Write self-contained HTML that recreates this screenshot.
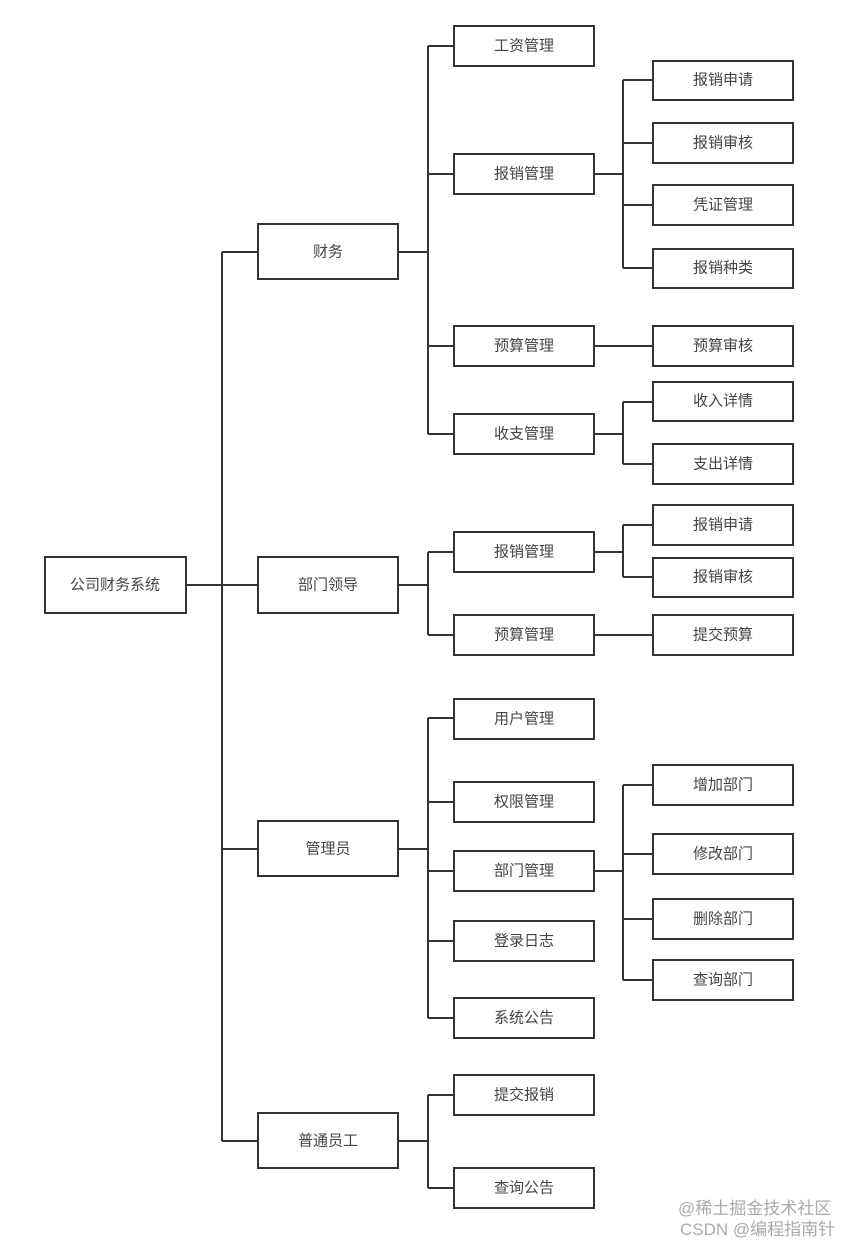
<!DOCTYPE html>
<html><head><meta charset="utf-8"><style>
html,body{margin:0;padding:0;background:#fff;}
svg text{font-family:"Liberation Sans","Noto Sans CJK SC",sans-serif;font-size:15px;fill:#444;}
</style></head><body>
<svg width="868" height="1244" viewBox="0 0 868 1244" xmlns="http://www.w3.org/2000/svg">
<g stroke="#333" stroke-width="2" fill="none">
<path d="M186 585H222M222 252V1141M222 252H258M222 585H258M222 849H258M222 1141H258"/>
<path d="M398 252H428M428 46V434M428 46H454M428 174H454M428 346H454M428 434H454"/>
<path d="M398 585H428M428 552V635M428 552H454M428 635H454"/>
<path d="M398 849H428M428 718V1018M428 718H454M428 802H454M428 871H454M428 941H454M428 1018H454"/>
<path d="M398 1141H428M428 1095V1188M428 1095H454M428 1188H454"/>
<path d="M594 174H623M623 80V268M623 80H653M623 143H653M623 205H653M623 268H653"/>
<path d="M594 346H653"/>
<path d="M594 434H623M623 402V464M623 402H653M623 464H653"/>
<path d="M594 552H623M623 525V577M623 525H653M623 577H653"/>
<path d="M594 635H653"/>
<path d="M594 871H623M623 785V980M623 785H653M623 854H653M623 919H653M623 980H653"/>
</g>
<g stroke="#333" stroke-width="2" fill="#fff">
<rect x="45" y="557" width="141" height="56"/>
<rect x="258" y="224" width="140" height="55"/>
<rect x="258" y="557" width="140" height="56"/>
<rect x="258" y="821" width="140" height="55"/>
<rect x="258" y="1113" width="140" height="55"/>
<rect x="454" y="26" width="140" height="40"/>
<rect x="454" y="154" width="140" height="40"/>
<rect x="454" y="326" width="140" height="40"/>
<rect x="454" y="414" width="140" height="40"/>
<rect x="454" y="532" width="140" height="40"/>
<rect x="454" y="615" width="140" height="40"/>
<rect x="454" y="699" width="140" height="40"/>
<rect x="454" y="782" width="140" height="40"/>
<rect x="454" y="851" width="140" height="40"/>
<rect x="454" y="921" width="140" height="40"/>
<rect x="454" y="998" width="140" height="40"/>
<rect x="454" y="1075" width="140" height="40"/>
<rect x="454" y="1168" width="140" height="40"/>
<rect x="653" y="61" width="140" height="39"/>
<rect x="653" y="123" width="140" height="40"/>
<rect x="653" y="185" width="140" height="40"/>
<rect x="653" y="249" width="140" height="39"/>
<rect x="653" y="326" width="140" height="40"/>
<rect x="653" y="382" width="140" height="39"/>
<rect x="653" y="444" width="140" height="40"/>
<rect x="653" y="505" width="140" height="40"/>
<rect x="653" y="558" width="140" height="39"/>
<rect x="653" y="615" width="140" height="40"/>
<rect x="653" y="765" width="140" height="40"/>
<rect x="653" y="834" width="140" height="40"/>
<rect x="653" y="899" width="140" height="40"/>
<rect x="653" y="960" width="140" height="40"/>
</g>
<g text-anchor="middle" dominant-baseline="central">
<text x="115" y="585">公司财务系统</text>
<text x="328" y="252">财务</text>
<text x="328" y="585">部门领导</text>
<text x="328" y="849">管理员</text>
<text x="328" y="1141">普通员工</text>
<text x="524" y="46">工资管理</text>
<text x="524" y="174">报销管理</text>
<text x="524" y="346">预算管理</text>
<text x="524" y="434">收支管理</text>
<text x="524" y="552">报销管理</text>
<text x="524" y="635">预算管理</text>
<text x="524" y="719">用户管理</text>
<text x="524" y="802">权限管理</text>
<text x="524" y="871">部门管理</text>
<text x="524" y="941">登录日志</text>
<text x="524" y="1018">系统公告</text>
<text x="524" y="1095">提交报销</text>
<text x="524" y="1188">查询公告</text>
<text x="723" y="80">报销申请</text>
<text x="723" y="143">报销审核</text>
<text x="723" y="205">凭证管理</text>
<text x="723" y="268">报销种类</text>
<text x="723" y="346">预算审核</text>
<text x="723" y="401">收入详情</text>
<text x="723" y="464">支出详情</text>
<text x="723" y="525">报销申请</text>
<text x="723" y="577">报销审核</text>
<text x="723" y="635">提交预算</text>
<text x="723" y="785">增加部门</text>
<text x="723" y="854">修改部门</text>
<text x="723" y="919">删除部门</text>
<text x="723" y="980">查询部门</text>
</g>
<text x="678" y="1214" style="font-size:17px;fill:#aaa">@稀土掘金技术社区</text>
<text x="680" y="1235" style="font-size:17px;fill:#aaa">CSDN @编程指南针</text>
</svg>
</body></html>
